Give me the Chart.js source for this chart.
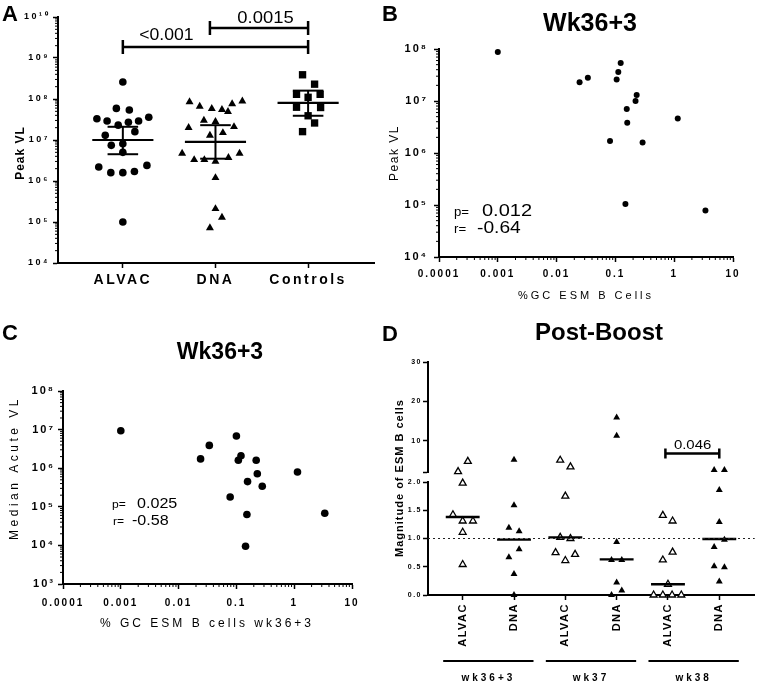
<!DOCTYPE html>
<html>
<head>
<meta charset="utf-8">
<script src="https://cdn.jsdelivr.net/npm/chart.js@4.4.0/dist/chart.umd.min.js"></script>
<style>
  body { margin: 0; background: #fff; }
  #fig { position: relative; width: 760px; height: 685px; }
  #fig canvas { position: absolute; }
</style>
</head>
<body>
<div id="fig">
  <canvas id="chartA" width="380" height="320" style="left:0;top:0"></canvas>
  <canvas id="chartB" width="380" height="320" style="left:380px;top:0"></canvas>
  <canvas id="chartC" width="380" height="365" style="left:0;top:320px"></canvas>
  <canvas id="chartDtop" width="380" height="365" style="left:380px;top:320px"></canvas>
  <canvas id="chartDbottom" width="380" height="365" style="left:380px;top:320px"></canvas>
</div>
<script>
// ---------- Panel A: peak viral load by group ----------
const groupsA = ['ALVAC', 'DNA', 'Controls'];
const alvacPeakVL = [2.6e8, 5.9e7, 5.4e7, 3.3e7, 2.9e7, 2.3e7, 2.7e7, 2.9e7, 3.6e7, 1.3e7,
                     1.6e7, 7.4e6, 8.1e6, 5.0e6, 2.2e6, 2.4e6, 1.6e6, 1.6e6, 1.7e6, 1.0e5];
const alvacSpread = [0, -0.07, 0.07, -0.28, -0.17, -0.05, 0.06, 0.17, 0.28, -0.19,
                     0.13, -0.125, 0, 0, -0.26, 0.26, -0.13, 0, 0.125, 0];
const dnaPeakVL = [8.5e7, 6.6e7, 5.8e7, 5.5e7, 4.9e7, 7.6e7, 8.9e7, 3.0e7, 2.8e7, 2.0e7, 2.1e7, 1.3e7,
                   1.5e7, 4.7e6, 3.3e6, 3.3e6, 3.0e6, 3.7e6, 4.7e6, 1.2e6, 2.1e5, 1.3e5, 7.2e4];
const dnaSpread = [-0.28, -0.17, -0.04, 0.07, 0.135, 0.18, 0.29, -0.125, 0, -0.29, 0.2, -0.06,
                   0.08, -0.36, -0.23, -0.12, 0, 0.14, 0.26, 0, 0, 0.07, -0.06];
const controlPeakVL = [3.9e8, 2.3e8, 1.3e8, 1.1e8, 1.3e8, 6.3e7, 6.2e7, 3.9e7, 2.6e7, 1.6e7];
const controlSpread = [-0.06, 0.07, -0.125, 0, 0.13, -0.125, 0.135, 0, 0.07, -0.06];
const medianA = [1.0e7, 9.0e6, 8.0e7];
const ciLowA = [4.5e6, 3.5e6, 3.9e7];
const ciHighA = [2.1e7, 2.3e7, 1.6e8];
const pValuesA = ['<0.001', '0.0015'];

// ---------- Panel B: peak VL vs %GC ESM B cells ----------
const gcEsmB = [0.001, 0.0246, 0.034, 0.123, 0.112, 0.105, 0.23, 0.22, 0.156, 0.159, 1.15, 0.081, 0.29, 0.148, 3.4];
const peakVLB = [8.8e7, 2.3e7, 2.8e7, 5.4e7, 3.6e7, 2.6e7, 1.3e7, 1.0e7, 7.0e6, 3.8e6, 4.6e6, 1.7e6, 1.6e6, 1.05e5, 7.8e4];

// ---------- Panel C: median acute VL vs %GC ESM B cells ----------
const gcEsmC = [0.001, 0.034, 0.024, 0.10, 0.12, 0.108, 0.22, 0.23, 0.156, 0.28, 0.078, 0.152, 0.144, 1.14, 3.38];
const medianVLC = [9.3e6, 3.9e6, 1.74e6, 6.8e6, 2.1e6, 1.6e6, 1.6e6, 7.2e5, 4.5e5, 3.4e5, 1.8e5, 6.3e4, 9.5e3, 8.0e5, 6.8e4];

// ---------- Panel D: post-boost magnitude of ESM B cells ----------
const groupsD = ['ALVAC', 'DNA', 'ALVAC', 'DNA', 'ALVAC', 'DNA'];
const weeksD = ['wk36+3', 'wk37', 'wk38'];
const magD = [
  [4.7, 2.1, 1.98, 1.42, 1.31, 1.31, 1.11, 0.54],
  [5.1, 1.59, 1.19, 1.13, 0.81, 0.67, 0.37, 0.0],
  [5.0, 3.3, 1.75, 1.02, 1.0, 0.75, 0.72, 0.61],
  [15.9, 11.2, 0.94, 0.62, 0.62, 0.22, 0.08, 0.0],
  [1.41, 1.31, 0.76, 0.62, 0.19, 0, 0, 0, 0],
  [2.54, 2.54, 1.86, 1.29, 0.98, 0.85, 0.51, 0.49, 0.24]
];
const spreadD = [
  [0.1, -0.09, 0, -0.19, 0, 0.2, 0, 0],
  [0, 0, -0.1, 0.1, 0.1, -0.1, 0, 0],
  [-0.1, 0.1, 0, -0.1, 0.1, -0.19, 0.19, 0],
  [0, 0, 0, -0.1, 0.1, 0, 0.1, -0.1],
  [-0.1, 0.09, 0.09, -0.1, 0, -0.28, -0.1, 0.08, 0.26],
  [-0.1, 0.1, 0, 0, 0.1, -0.1, -0.1, 0.1, 0]
];
const medianD = [1.38, 0.98, 1.02, 0.63, 0.19, 0.99];
const pValueD = '0.046';
const breakD = 2; // axis break between lower and upper segment

const BLACK = '#000';
const FONT = "'Liberation Sans', Arial, sans-serif";
Chart.defaults.font.family = FONT;
Chart.defaults.color = BLACK;
Chart.defaults.animation = false;

// ---------- Helpers ----------
const SUP = { '0': '⁰', '1': '¹', '2': '²', '3': '³', '4': '⁴', '5': '⁵', '6': '⁶', '7': '⁷', '8': '⁸', '9': '⁹', '-': '⁻' };
function pow10Label(v) {
  const e = String(Math.round(Math.log10(v)));
  return '10' + e.split('').map(c => SUP[c]).join('');
}
function swarm(center, offsets, values) {
  return values.map((v, i) => ({ x: center + offsets[i], y: v }));
}
function ticksAt(vals) {
  return scale => { scale.ticks = vals.map(v => ({ value: v })); };
}
function decadeTicks(scale) {
  const lo = Math.round(Math.log10(scale.min)), hi = Math.round(Math.log10(scale.max));
  const t = [];
  for (let e = lo; e <= hi; e++) t.push({ value: Math.pow(10, e) });
  scale.ticks = t;
}
function axisStyle(extra) {
  return Object.assign({
    border: { display: true, color: BLACK, width: 2 },
    grid: { display: true, drawOnChartArea: false, drawTicks: true, tickLength: 5, tickWidth: 1.5, tickColor: BLACK }
  }, extra);
}
function drawText(ctx, t) {
  ctx.save();
  ctx.font = t.font;
  ctx.fillStyle = BLACK;
  ctx.letterSpacing = (t.spacing || 0) + 'px';
  ctx.textAlign = t.align || 'center';
  ctx.textBaseline = t.baseline || 'alphabetic';
  ctx.translate(t.x, t.y);
  if (t.rotate) ctx.rotate(t.rotate);
  if (t.sx) ctx.scale(t.sx, 1);
  ctx.fillText(t.text, 0, 0);
  ctx.restore();
}

// ---------- Plugins ----------
// small minor ticks between decades on log axes
const minorLogTicks = {
  id: 'minorLogTicks',
  afterDraw(chart, args, opts) {
    const ctx = chart.ctx;
    ctx.save();
    ctx.strokeStyle = BLACK;
    ctx.lineWidth = 1;
    (opts.axes || []).forEach(id => {
      const s = chart.scales[id];
      const lo = Math.round(Math.log10(s.min)), hi = Math.round(Math.log10(s.max));
      ctx.beginPath();
      for (let e = lo; e < hi; e++) {
        for (let k = 2; k <= 9; k++) {
          const p = s.getPixelForValue(k * Math.pow(10, e));
          if (s.isHorizontal()) { ctx.moveTo(p, s.top); ctx.lineTo(p, s.top + 3); }
          else { ctx.moveTo(s.right, p); ctx.lineTo(s.right - 3, p); }
        }
      }
      ctx.stroke();
    });
    ctx.restore();
  }
};

// medians, error bars, brackets, reference lines (in data units)
const overlay = {
  id: 'overlay',
  afterDatasetsDraw(chart, args, opts) {
    const ctx = chart.ctx;
    const xs = chart.scales.x, ys = chart.scales.y;
    (opts.items || []).forEach(it => {
      ctx.save();
      ctx.strokeStyle = it.color || BLACK;
      ctx.lineWidth = it.width || 2;
      ctx.setLineDash(it.dash || []);
      ctx.beginPath();
      if (it.kind === 'seg') {
        ctx.moveTo(xs.getPixelForValue(it.x0), ys.getPixelForValue(it.y0));
        ctx.lineTo(xs.getPixelForValue(it.x1), ys.getPixelForValue(it.y1));
      } else if (it.kind === 'bracket') {
        const a = xs.getPixelForValue(it.x0), b = xs.getPixelForValue(it.x1), y = ys.getPixelForValue(it.y);
        ctx.moveTo(a, y); ctx.lineTo(b, y);
        ctx.moveTo(a, y - it.cap); ctx.lineTo(a, y + it.cap);
        ctx.moveTo(b, y - it.cap); ctx.lineTo(b, y + it.cap);
      }
      ctx.stroke();
      ctx.restore();
      if (it.label) {
        drawText(ctx, Object.assign({}, it.label, {
          x: xs.getPixelForValue(it.label.at),
          y: ys.getPixelForValue(it.y) - it.label.gap
        }));
      }
    });
  }
};

// free text: panel letters, titles, axis titles, statistics
const panelText = {
  id: 'panelText',
  afterDraw(chart, args, opts) {
    (opts.items || []).forEach(t => drawText(chart.ctx, t));
  }
};

// wider letter spacing for the axis labels, like the original export
const tickSpacing = {
  id: 'tickSpacing',
  beforeDraw(chart, args, opts) { chart.ctx.letterSpacing = (opts.px || 0) + 'px'; },
  beforeDatasetsDraw(chart) { chart.ctx.letterSpacing = '0px'; }
};

const commonPlugins = { legend: { display: false }, tooltip: { enabled: false } };

// ---------- Panel A ----------
const summaryA = [];
medianA.forEach((m, i) => {
  summaryA.push({ kind: 'seg', x0: i - 0.33, x1: i + 0.33, y0: m, y1: m, width: 2.2 });
  summaryA.push({ kind: 'seg', x0: i, x1: i, y0: ciLowA[i], y1: ciHighA[i], width: 2 });
  summaryA.push({ kind: 'seg', x0: i - 0.165, x1: i + 0.165, y0: ciLowA[i], y1: ciLowA[i], width: 2 });
  summaryA.push({ kind: 'seg', x0: i - 0.165, x1: i + 0.165, y0: ciHighA[i], y1: ciHighA[i], width: 2 });
});
summaryA.push({ kind: 'bracket', x0: 0, x1: 2, y: 1.86e9, cap: 7, width: 2.5,
  label: { text: pValuesA[0], at: 0.47, gap: 7, font: '16px ' + FONT, sx: 1.1 } });
summaryA.push({ kind: 'bracket', x0: 0.94, x1: 2, y: 5.4e9, cap: 7, width: 2.5,
  label: { text: pValuesA[1], at: 1.54, gap: 5, font: '16px ' + FONT, sx: 1.15 } });

new Chart(document.getElementById('chartA'), {
  type: 'scatter',
  data: {
    datasets: [
      { data: swarm(0, alvacSpread, alvacPeakVL), pointStyle: 'circle', pointRadius: 3.8,
        backgroundColor: BLACK, borderWidth: 0, clip: false },
      { data: swarm(1, dnaSpread, dnaPeakVL), pointStyle: 'triangle', pointRadius: 4.6,
        backgroundColor: BLACK, borderWidth: 0, clip: false },
      { data: swarm(2, controlSpread, controlPeakVL), pointStyle: 'rect', pointRadius: 5.2,
        backgroundColor: BLACK, borderWidth: 0, clip: false }
    ]
  },
  options: {
    responsive: false,
    events: [],
    layout: { padding: { top: 17, right: 2, bottom: 0, left: 0 } },
    scales: {
      x: axisStyle({
        type: 'linear', min: -0.7, max: 2.72,
        afterBuildTicks: ticksAt([0, 1, 2]),
        afterFit: s => { s.height = 57; },
        ticks: { callback: v => groupsA[v], font: { size: 14, weight: 'bold' }, padding: 4, maxRotation: 0 }
      }),
      y: axisStyle({
        type: 'logarithmic', min: 1e4, max: 1e10,
        afterBuildTicks: decadeTicks,
        afterFit: s => { s.width = 58; },
        ticks: { callback: pow10Label, font: { size: 9, weight: 'bold' }, padding: 3 }
      })
    },
    plugins: Object.assign({}, commonPlugins, {
      minorLogTicks: { axes: ['y'] },
      overlay: { items: summaryA },
      tickSpacing: { px: 2.5 },
      panelText: { items: [
        { text: 'A', x: 2, y: 21, font: 'bold 22px ' + FONT, align: 'left' },
        { text: 'Peak VL', x: 21, y: 153, font: 'bold 12px ' + FONT, rotate: -Math.PI / 2, baseline: 'middle', spacing: 1 }
      ] }
    })
  },
  plugins: [tickSpacing, minorLogTicks, overlay, panelText]
});

// ---------- Panels B and C (log-log scatter) ----------
function logScatter(id, xs, ys, cfg) {
  return new Chart(document.getElementById(id), {
    type: 'scatter',
    data: {
      datasets: [{
        data: xs.map((x, i) => ({ x: x, y: ys[i] })),
        pointStyle: 'circle', pointRadius: cfg.radius, backgroundColor: BLACK, borderWidth: 0, clip: false
      }]
    },
    options: {
      responsive: false,
      events: [],
      layout: { padding: cfg.padding },
      scales: {
        x: axisStyle({
          type: 'logarithmic', min: 1e-4, max: 10,
          afterBuildTicks: decadeTicks,
          afterFit: s => { s.height = cfg.xHeight; },
          ticks: { callback: v => String(+v.toPrecision(1)), font: { size: 10, weight: 'bold' }, padding: cfg.xPad, maxRotation: 0 }
        }),
        y: axisStyle({
          type: 'logarithmic', min: cfg.yMin, max: 1e8,
          afterBuildTicks: decadeTicks,
          afterFit: s => { s.width = cfg.yWidth; },
          ticks: { callback: pow10Label, font: { size: 11, weight: 'bold' }, padding: cfg.yPad }
        })
      },
      plugins: Object.assign({}, commonPlugins, {
        minorLogTicks: { axes: ['x', 'y'] },
        tickSpacing: { px: 2 },
        panelText: { items: cfg.texts }
      })
    },
    plugins: [tickSpacing, minorLogTicks, panelText]
  });
}

logScatter('chartB', gcEsmB, peakVLB, {
  radius: 3, yMin: 1e4,
  padding: { top: 49, right: 27, bottom: 0, left: 0 },
  xHeight: 63, yWidth: 59, xPad: 6, yPad: 6,
  texts: [
    { text: 'B', x: 2, y: 21, font: 'bold 22px ' + FONT, align: 'left' },
    { text: 'Wk36+3', x: 210, y: 24, font: 'bold 25px ' + FONT, baseline: 'middle' },
    { text: 'Peak VL', x: 15, y: 153, font: '12px ' + FONT, rotate: -Math.PI / 2, baseline: 'middle', spacing: 1.5 },
    { text: '%GC ESM B Cells', x: 206, y: 296, font: '11px ' + FONT, baseline: 'middle', spacing: 3 },
    { text: 'p=', x: 74, y: 216, font: '12px ' + FONT, align: 'left', sx: 1.1 },
    { text: '0.012', x: 102, y: 216, font: '16px ' + FONT, align: 'left', sx: 1.25 },
    { text: 'r=', x: 74, y: 233, font: '12px ' + FONT, align: 'left', sx: 1.1 },
    { text: '-0.64', x: 97, y: 233, font: '16px ' + FONT, align: 'left', sx: 1.2 }
  ]
});

logScatter('chartC', gcEsmC, medianVLC, {
  radius: 3.8, yMin: 1e3,
  padding: { top: 71, right: 28, bottom: 0, left: 0 },
  xHeight: 101, yWidth: 63, xPad: 8, yPad: 3,
  texts: [
    { text: 'C', x: 2, y: 20, font: 'bold 22px ' + FONT, align: 'left' },
    { text: 'Wk36+3', x: 220, y: 33, font: 'bold 23px ' + FONT, baseline: 'middle' },
    { text: 'Median Acute VL', x: 15, y: 148, font: '12px ' + FONT, rotate: -Math.PI / 2, baseline: 'middle', spacing: 3.5 },
    { text: '% GC ESM B cells wk36+3', x: 207, y: 304, font: '12px ' + FONT, baseline: 'middle', spacing: 3 },
    { text: 'p=', x: 112, y: 188, font: '11px ' + FONT, align: 'left', sx: 1.1 },
    { text: '0.025', x: 137, y: 188, font: '14px ' + FONT, align: 'left', sx: 1.15 },
    { text: 'r=', x: 113, y: 205, font: '11px ' + FONT, align: 'left', sx: 1.1 },
    { text: '-0.58', x: 132, y: 205, font: '14px ' + FONT, align: 'left', sx: 1.15 }
  ]
});

// ---------- Panel D (broken y axis: two stacked charts sharing the x range) ----------
const xMinD = -0.676, xMaxD = 5.69;
function pointsD(keep) {
  return magD.map((vals, g) => ({
    data: vals.map((v, i) => ({ x: g + spreadD[g][i], y: v })).filter(p => keep(p.y)),
    pointStyle: 'triangle', pointRadius: 4,
    backgroundColor: g % 2 === 0 ? '#fff' : BLACK,
    borderColor: BLACK, borderWidth: g % 2 === 0 ? 1.3 : 0, clip: false
  }));
}

new Chart(document.getElementById('chartDtop'), {
  type: 'scatter',
  data: { datasets: pointsD(v => v > breakD) },
  options: {
    responsive: false,
    events: [],
    layout: { padding: { top: 42, right: 2, bottom: 213, left: 0 } },
    scales: {
      x: {
        type: 'linear', min: xMinD, max: xMaxD,
        border: { display: false }, grid: { display: false }, ticks: { display: false },
        afterFit: s => { s.height = 0; }
      },
      y: axisStyle({
        type: 'linear', min: breakD, max: 30,
        afterBuildTicks: ticksAt([breakD, 10, 20, 30]),
        afterFit: s => { s.width = 48; },
        ticks: { callback: v => (v === breakD ? '' : String(v)), font: { size: 7, weight: 'bold' }, padding: 1 }
      })
    },
    plugins: Object.assign({}, commonPlugins, {
      tickSpacing: { px: 1.5 },
      overlay: { items: [
        { kind: 'bracket', x0: 3.95, x1: 5, y: 6.7, cap: 5, width: 2.5,
          label: { text: pValueD, at: 4.48, gap: 5, font: '13px ' + FONT, sx: 1.15 } }
      ] },
      panelText: { items: [
        { text: 'D', x: 2, y: 21, font: 'bold 22px ' + FONT, align: 'left' },
        { text: 'Post-Boost', x: 219, y: 13, font: 'bold 24px ' + FONT, baseline: 'middle' }
      ] }
    })
  },
  plugins: [tickSpacing, overlay, panelText]
});

// week group underlines and labels below the rotated group names
const weekGroups = {
  id: 'weekGroups',
  afterDraw(chart) {
    const ctx = chart.ctx, xs = chart.scales.x, bottom = chart.chartArea.bottom;
    weeksD.forEach((w, k) => {
      const c = 2 * k + 0.5;
      ctx.save();
      ctx.strokeStyle = BLACK;
      ctx.lineWidth = 2;
      ctx.beginPath();
      ctx.moveTo(xs.getPixelForValue(c - 0.88), bottom + 66);
      ctx.lineTo(xs.getPixelForValue(c + 0.88), bottom + 66);
      ctx.stroke();
      ctx.restore();
      drawText(ctx, { text: w, x: xs.getPixelForValue(c), y: bottom + 83, font: 'bold 10px ' + FONT, baseline: 'middle', spacing: 3 });
    });
  }
};

const summaryD = medianD.map((m, g) => ({ kind: 'seg', x0: g - 0.33, x1: g + 0.33, y0: m, y1: m, width: 2.4 }));
summaryD.push({ kind: 'seg', x0: xMinD, x1: xMaxD, y0: 1, y1: 1, width: 1.2, dash: [2, 3], color: '#222' });

new Chart(document.getElementById('chartDbottom'), {
  type: 'scatter',
  data: { datasets: pointsD(v => v <= breakD) },
  options: {
    responsive: false,
    events: [],
    layout: { padding: { top: 162, right: 2, bottom: 0, left: 0 } },
    scales: {
      x: axisStyle({
        type: 'linear', min: xMinD, max: xMaxD,
        afterBuildTicks: ticksAt([0, 1, 2, 3, 4, 5]),
        afterFit: s => { s.height = 90; },
        ticks: { callback: v => groupsD[v], font: { size: 11, weight: 'bold' }, padding: 3,
                 minRotation: 90, maxRotation: 90, autoSkip: false }
      }),
      y: axisStyle({
        type: 'linear', min: 0, max: breakD,
        afterBuildTicks: ticksAt([0, 0.5, 1, 1.5, 2]),
        afterFit: s => { s.width = 48; },
        ticks: { callback: v => v.toFixed(1), font: { size: 7, weight: 'bold' }, padding: 1 }
      })
    },
    plugins: Object.assign({}, commonPlugins, {
      tickSpacing: { px: 1.5 },
      overlay: { items: summaryD },
      panelText: { items: [
        { text: 'Magnitude of ESM B cells', x: 20, y: 158, font: 'bold 11px ' + FONT, rotate: -Math.PI / 2, baseline: 'middle', spacing: 1 }
      ] }
    })
  },
  plugins: [tickSpacing, overlay, weekGroups, panelText]
});
</script>
</body>
</html>
